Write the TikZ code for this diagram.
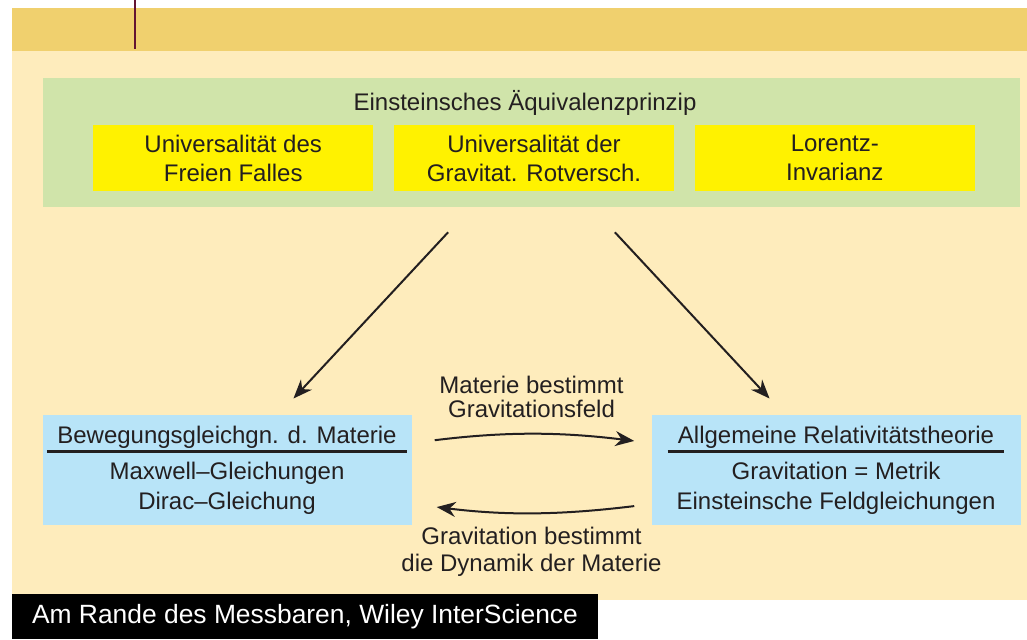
\documentclass[tikz,border=0pt]{standalone}
\usepackage{fontspec}
\setmainfont{Liberation Sans}
\usepackage{tikz}
\usetikzlibrary{arrows.meta,positioning,calc}
\definecolor{paperyellow}{RGB}{254,236,188}
\definecolor{bandyellow}{RGB}{240,208,110}
\definecolor{principlegreen}{RGB}{208,228,170}
\definecolor{pillaryellow}{RGB}{255,242,0}
\definecolor{theoryblue}{RGB}{184,228,248}
\definecolor{markmaroon}{RGB}{100,20,50}
\definecolor{inkdark}{RGB}{35,31,32}

\begin{document}
\begin{tikzpicture}[
    x=0.5pt, y=-0.5pt,
    node distance=10pt and 10pt,
    every node/.style={font=\fontsize{12}{14.5}\selectfont, align=center, text=inkdark},
    principle/.style={rectangle, fill=principlegreen, minimum width=488.5pt, minimum height=64.5pt},
    pillar/.style={rectangle, fill=pillaryellow, minimum width=140pt, minimum height=33pt, inner sep=0pt},
    theory/.style={rectangle, fill=theoryblue, minimum width=184.5pt, minimum height=55pt},
    heading/.style={inner xsep=5pt, inner ysep=1.5pt, text height=8.6pt, text depth=2.5pt},
    bodytext/.style={font=\fontsize{12}{15}\selectfont},
    headrule/.style={line width=1.3pt, draw=inkdark},
    arrow/.style={-{Stealth[length=9.5pt,width=7.5pt]}, line width=1pt, draw=inkdark},
    flowlabel/.style={inner sep=0pt},
    caption/.style={rectangle, fill=black, text=white, font=\fontsize{13.2}{15}\selectfont, minimum width=293pt, minimum height=22.5pt}
]
    % page background
    \useasboundingbox (0,0) rectangle (1027,639);
    \fill[bandyellow] (12,8) rectangle (1027,51);
    \fill[paperyellow] (12,51) rectangle (1027,600);
    \draw[markmaroon, line width=1.2pt] (135,0) -- (135,49);

    % equivalence principle
    \node[principle] (aep) at (531.5,142.5) {};
    \node (title) at (525,103) {Einsteinsches Äquivalenzprinzip};
    \node[pillar] (rot) at (534,158) {Universalität der\\Gravitat. Rotversch.};
    \node[pillar, left=of rot] (fall) {Universalität des\\Freien Falles};
    \node[pillar, right=of rot] (lorentz) {Lorentz-\\Invarianz};

    % matter and gravitation
    \node[theory] (bew) at (227,470) {};
    \node[heading] (bewhead) at (227,437) {Bewegungsgleichgn. d. Materie};
    \draw[headrule] (bewhead.south west) -- (bewhead.south east);
    \node[bodytext] (bewbody) at (227,488) {Maxwell–Gleichungen\\Dirac–Gleichung};

    \node[theory] (art) at (836,470) {};
    \node[heading] (arthead) at (836,437) {Allgemeine Relativitätstheorie};
    \draw[headrule] (arthead.south west) -- (arthead.south east);
    \node[bodytext] (artbody) at (836,488) {Gravitation = Metrik\\Einsteinsche Feldgleichungen};

    \draw[arrow, shorten <=17pt, shorten >=11pt] (aep) -- (bew);
    \draw[arrow, shorten <=17pt, shorten >=11pt] (aep) -- (art);

    \draw[arrow, shorten <=11.5pt, shorten >=8.5pt] ([yshift=13.5pt]bew.east) to[bend left=7]
        node[flowlabel, midway, above=8pt] {Materie bestimmt\\[-2.5pt]Gravitationsfeld} ([yshift=13.5pt]art.west);
    \draw[arrow, shorten <=8.5pt, shorten >=12.5pt] ([yshift=-17pt]art.west) to[bend left=7]
        node[flowlabel, midway, below=7pt] {Gravitation bestimmt\\[-1pt]die Dynamik der Materie} ([yshift=-17pt]bew.east);

    % source
    \node[caption] (source) at (305,616.5) {Am Rande des Messbaren, Wiley InterScience};
\end{tikzpicture}
\end{document}
